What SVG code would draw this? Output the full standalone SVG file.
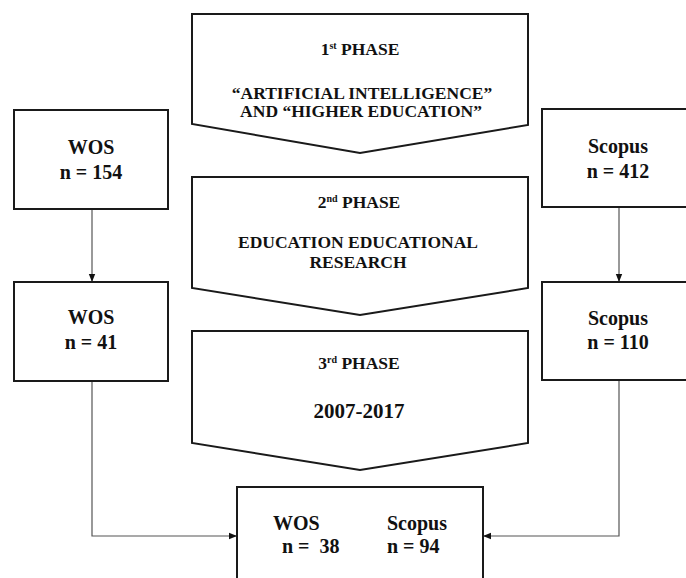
<svg xmlns="http://www.w3.org/2000/svg" width="686" height="578" viewBox="0 0 686 578">
<defs>
<style>
.box{fill:#fff;stroke:#1a1a1a;stroke-width:2}
.con{fill:none;stroke:#555;stroke-width:1.2}
.t{font-family:"Liberation Serif","Times New Roman",serif;font-weight:bold;fill:#111;text-anchor:middle}
.ph{font-size:17.5px}
.nb{font-size:20px}
.sup{font-size:10px}
</style>
<marker id="ah" viewBox="0 0 8 8" refX="8" refY="4" markerWidth="8" markerHeight="8" markerUnits="userSpaceOnUse" orient="auto">
<path d="M0,0.8 L8,4 L0,7.2 Z" fill="#111"/>
</marker>
</defs>
<rect width="686" height="578" fill="#fff"/>
<g id="connectors">
<line class="con" x1="92" y1="209" x2="92" y2="282" marker-end="url(#ah)"/>
<line class="con" x1="619" y1="207" x2="619" y2="282" marker-end="url(#ah)"/>
<path class="con" d="M92,381 V536 H237" marker-end="url(#ah)"/>
<path class="con" d="M619,380 V536 H483" marker-end="url(#ah)"/>
</g>
<g id="phase1">
<polygon class="box" points="192,14 528,14 528,125 360,153 192,124"/>
<text class="t ph" x="360" y="55">1<tspan class="sup" dy="-6">st</tspan><tspan dy="6"> PHASE</tspan></text>
<text class="t ph" x="362" y="99">“ARTIFICIAL INTELLIGENCE”</text>
<text class="t ph" x="361" y="117">AND “HIGHER EDUCATION”</text>
</g>
<g id="phase2">
<polygon class="box" points="192,177 528,177 528,288 360,315 192,288"/>
<text class="t ph" x="359" y="208">2<tspan class="sup" dy="-6">nd</tspan><tspan dy="6"> PHASE</tspan></text>
<text class="t ph" x="358" y="248">EDUCATION EDUCATIONAL</text>
<text class="t ph" x="358" y="268">RESEARCH</text>
</g>
<g id="phase3">
<polygon class="box" points="192,331 528,331 528,443 360,470 192,443"/>
<text class="t ph" x="359" y="369">3<tspan class="sup" dy="-6">rd</tspan><tspan dy="6"> PHASE</tspan></text>
<text class="t" x="359" y="418" font-size="21">2007-2017</text>
</g>
<g id="wos1">
<rect class="box" x="14" y="110" width="154" height="99"/>
<text class="t nb" x="91" y="154">WOS</text>
<text class="t nb" x="91" y="179">n = 154</text>
</g>
<g id="wos2">
<rect class="box" x="14" y="282" width="154" height="99"/>
<text class="t nb" x="91" y="324">WOS</text>
<text class="t nb" x="91" y="349">n = 41</text>
</g>
<g id="scopus1">
<rect class="box" x="542" y="109" width="160" height="98"/>
<text class="t nb" x="618" y="153">Scopus</text>
<text class="t nb" x="618" y="178">n = 412</text>
</g>
<g id="scopus2">
<rect class="box" x="542" y="282" width="160" height="98"/>
<text class="t nb" x="618" y="325">Scopus</text>
<text class="t nb" x="618" y="349">n = 110</text>
</g>
<g id="result">
<rect class="box" x="237" y="487" width="246" height="110"/>
<text class="t nb" x="273" y="530" text-anchor="start" style="text-anchor:start">WOS</text>
<text class="t nb" x="282" y="553" style="text-anchor:start" xml:space="preserve">n =  38</text>
<text class="t nb" x="387" y="530" style="text-anchor:start">Scopus</text>
<text class="t nb" x="387" y="553" style="text-anchor:start">n = 94</text>
</g>
</svg>
